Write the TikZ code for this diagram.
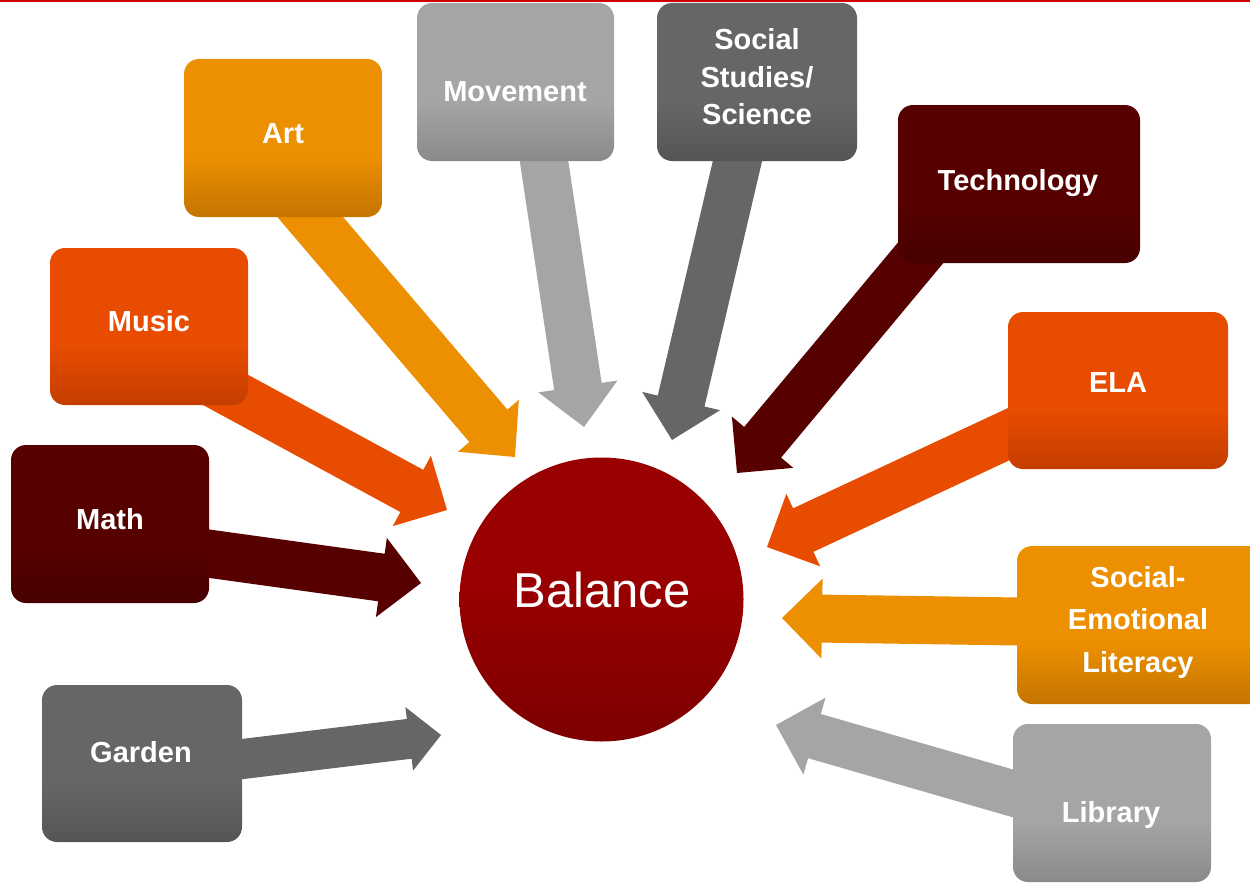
\documentclass[tikz,border=0pt]{standalone}
\usepackage{fontspec}
\setmainfont{Liberation Sans}
\usetikzlibrary{calc}
\definecolor{cOr}{HTML}{EC8F00}\definecolor{cOrD}{HTML}{C47400}
\definecolor{cRo}{HTML}{E84C00}\definecolor{cRoD}{HTML}{C43E00}
\definecolor{cGl}{HTML}{A5A5A5}\definecolor{cGlD}{HTML}{8A8A8A}
\definecolor{cGd}{HTML}{666666}\definecolor{cGdD}{HTML}{555555}
\definecolor{cMa}{HTML}{570000}\definecolor{cMaD}{HTML}{470000}
\definecolor{cCi}{HTML}{990000}\definecolor{cCiD}{HTML}{7D0000}
\definecolor{cTop}{HTML}{CC0000}
% vertical shadings: the path is mapped onto 25bp..75bp
\pgfdeclareverticalshading{shOr}{100bp}{color(0bp)=(cOrD); color(25bp)=(cOrD); color(44bp)=(cOr); color(100bp)=(cOr)}
\pgfdeclareverticalshading{shRo}{100bp}{color(0bp)=(cRoD); color(25bp)=(cRoD); color(44bp)=(cRo); color(100bp)=(cRo)}
\pgfdeclareverticalshading{shGl}{100bp}{color(0bp)=(cGlD); color(25bp)=(cGlD); color(44bp)=(cGl); color(100bp)=(cGl)}
\pgfdeclareverticalshading{shGd}{100bp}{color(0bp)=(cGdD); color(25bp)=(cGdD); color(44bp)=(cGd); color(100bp)=(cGd)}
\pgfdeclareverticalshading{shMa}{100bp}{color(0bp)=(cMaD); color(25bp)=(cMaD); color(44bp)=(cMa); color(100bp)=(cMa)}
\pgfdeclareverticalshading{shCi}{100bp}{color(0bp)=(cCiD); color(25bp)=(cCiD); color(52bp)=(cCi); color(100bp)=(cCi)}
% block arrow: #1 tail, #2 tip, #3 colour, #4 shaft half width, #5 head half width, #6 head length
\newcommand{\blkarrow}[6]{%
  \coordinate (#1-h) at ($(#2)!#6pt!(#1)$);
  \fill[#3] ($(#1)!#4pt!90:(#2)$) -- ($(#1-h)!#4pt!90:(#2)$) -- ($(#1-h)!#5pt!90:(#2)$)
    -- (#2) -- ($(#1-h)!#5pt!-90:(#2)$) -- ($(#1-h)!#4pt!-90:(#2)$) -- ($(#1)!#4pt!-90:(#2)$) -- cycle;}
\tikzset{
  box/.style={rectangle, rounded corners=15pt, shade, shading=#1, inner sep=0pt},
  lbl/.style={anchor=base, text=white, inner sep=0pt, font=\fontsize{29}{37}\selectfont\bfseries},
  ball/.style={circle, shade, shading=shCi, inner sep=0pt, minimum size=284pt},
}
\begin{document}
\begin{tikzpicture}[x=1pt,y=1pt]
\useasboundingbox (0,0) rectangle (1250,-883);
\clip (0,0) rectangle (1250,-883);
\fill[cTop] (0,0) rectangle (1250,-2);

% arrow ends
\coordinate (artS) at (288,-191); \coordinate (artT) at (515,-457);
\coordinate (movS) at (532,-81);  \coordinate (movT) at (584,-427);
\coordinate (socS) at (752,-99);  \coordinate (socT) at (672,-440);
\coordinate (tecS) at (993,-166); \coordinate (tecT) at (737,-473);
\coordinate (musS) at (139,-343); \coordinate (musT) at (447,-510);
\coordinate (elaS) at (1084,-399);\coordinate (elaT) at (767,-547);
\coordinate (matS) at (74,-535);  \coordinate (matT) at (421,-583);
\coordinate (selS) at (1120,-623);\coordinate (selT) at (782,-618);
\coordinate (garS) at (193,-765); \coordinate (garT) at (441,-735);
\coordinate (libS) at (1112,-822);\coordinate (libT) at (776,-725);

\blkarrow{artS}{artT}{cOr}{25}{40}{41}
\blkarrow{movS}{movT}{cGl}{24}{40}{41}
\blkarrow{socS}{socT}{cGd}{24}{40}{40}
\blkarrow{tecS}{tecT}{cMa}{24}{40}{40}
\blkarrow{musS}{musT}{cRo}{24}{40}{40}
\blkarrow{elaS}{elaT}{cRo}{24}{40}{40}
\blkarrow{matS}{matT}{cMa}{24}{40}{40}
\blkarrow{selS}{selT}{cOr}{24}{40}{40}
\blkarrow{garS}{garT}{cGd}{20}{32}{32}
\blkarrow{libS}{libT}{cGl}{23}{40}{40}

% boxes
\node[box=shOr, minimum width=198pt, minimum height=158pt] (art) at (283,-138) {};
\node[box=shGl, minimum width=197pt, minimum height=158pt] (mov) at (515.5,-82) {};
\node[box=shGd, minimum width=200pt, minimum height=158pt] (soc) at (757,-82) {};
\node[box=shMa, minimum width=242pt, minimum height=158pt] (tec) at (1019,-184) {};
\node[box=shRo, minimum width=198pt, minimum height=157pt] (mus) at (149,-326.5) {};
\node[box=shRo, minimum width=220pt, minimum height=157pt] (ela) at (1118,-390.5) {};
\node[box=shMa, minimum width=198pt, minimum height=158pt] (mat) at (110,-524) {};
\node[box=shOr, minimum width=250pt, minimum height=158pt] (sel) at (1142,-625) {};
\node[box=shGd, minimum width=200pt, minimum height=157pt] (gar) at (142,-763.5) {};
\node[box=shGl, minimum width=198pt, minimum height=158pt] (lib) at (1112,-803) {};

% labels
\node[lbl] (tart) at (283,-143) {Art};
\node[lbl] (tmov) at (515,-101) {Movement};
\node[lbl] (tsoc) at (757,-50) {\begin{tabular}[t]{@{}c@{}}Social\\Studies/\\Science\end{tabular}};
\node[lbl] (ttec) at (1018,-190) {Technology};
\node[lbl] (tmus) at (149,-331) {Music};
\node[lbl] (tela) at (1118,-392) {ELA};
\node[lbl] (tmat) at (110,-529) {Math};
\node[lbl, font=\fontsize{29}{42.5}\selectfont\bfseries] (tsel) at (1138,-587) {\begin{tabular}[t]{@{}c@{}}Social-\\Emotional\\Literacy\end{tabular}};
\node[lbl] (tgar) at (141,-762) {Garden};
\node[lbl] (tlib) at (1111,-822) {Library};

% centre
\node[ball] (bal) at (601.5,-599.5) {};
\node[anchor=base, text=white, inner sep=0pt, font=\fontsize{49}{55}\selectfont] (tbal) at (602,-607) {Balance};
\end{tikzpicture}
\end{document}
